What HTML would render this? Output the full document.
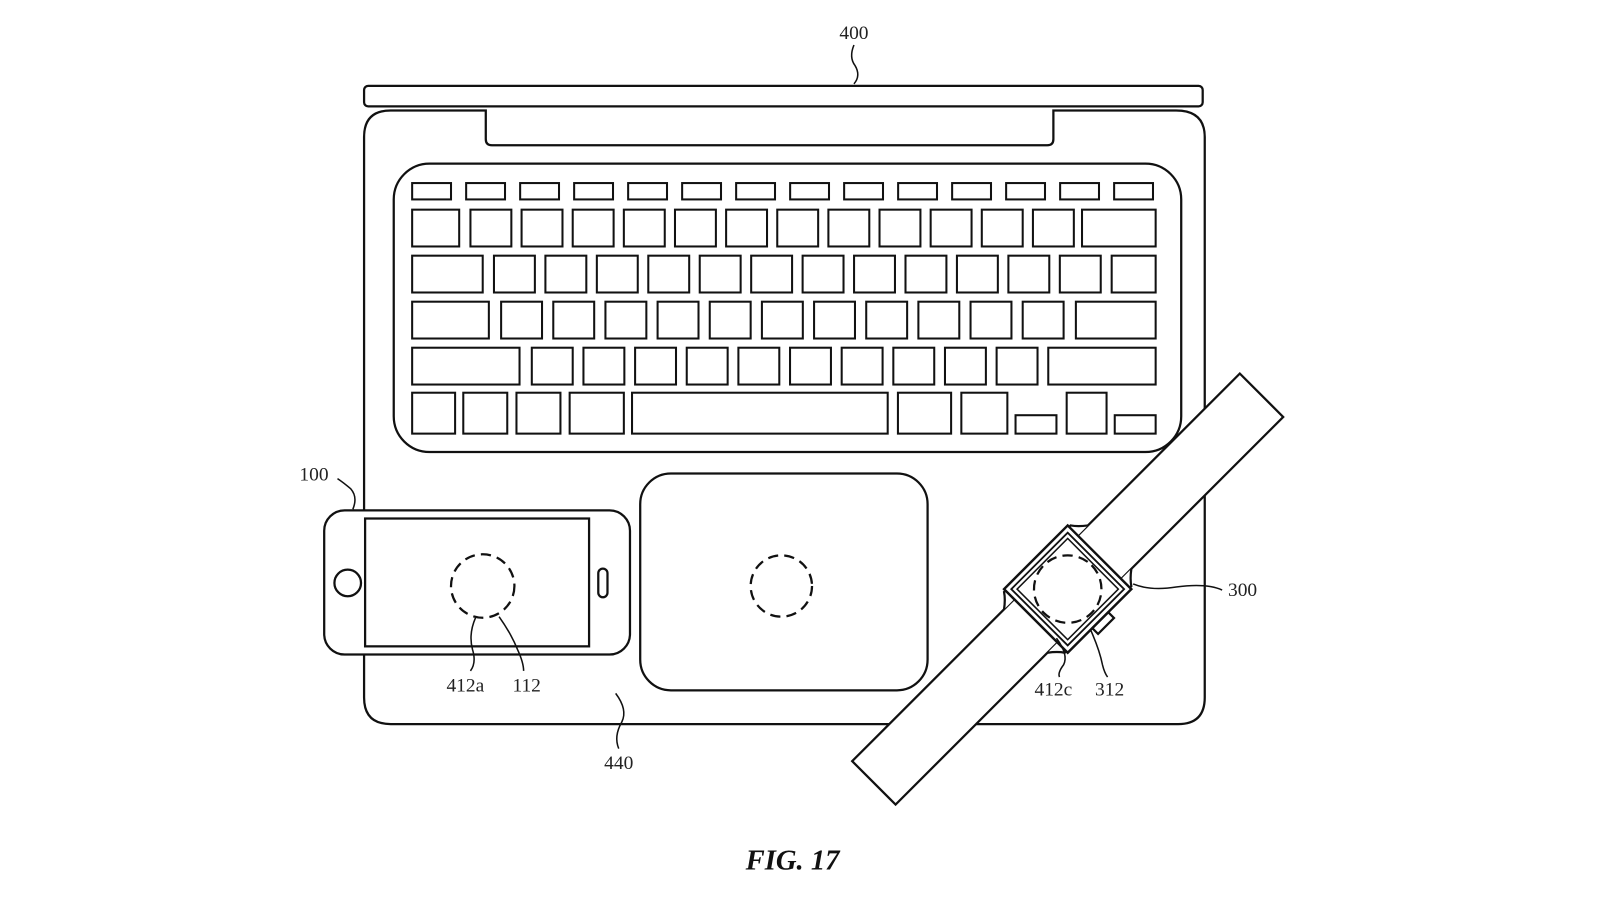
<!DOCTYPE html>
<html><head><meta charset="utf-8"><style>
html,body{margin:0;padding:0;background:#fff;width:1600px;height:900px;overflow:hidden}
svg{display:block}
text{font-family:"Liberation Serif",serif;font-size:19px;fill:#222}
</style></head><body>
<svg id="s" width="1600" height="900" viewBox="0 0 1600 900" fill="none" stroke="#111" stroke-width="2.2">
<g transform="scale(1.0227)">
<!-- lid -->
<rect x="356" y="84" width="820" height="20" rx="4"/>
<path d="M356 134 Q356 108 382 108 L475 108 L475 136 Q475 142 481 142 L1024 142 Q1030 142 1030 136 L1030 108 L1150 108 Q1178 108 1178 134 L1178 682 Q1178 708 1152 708 L382 708 Q356 708 356 682 Z"/>
<rect x="385" y="160" width="770" height="282" rx="35"/>
<g id="keys" stroke-width="2"></g>
<!-- trackpad -->
<rect x="626" y="463" width="281" height="212" rx="30"/>
<circle cx="764" cy="573" r="30" stroke-dasharray="10 6"/>
<!-- phone -->
<rect x="317" y="499" width="299" height="141" rx="20" fill="#fff"/>
<rect x="357" y="507" width="219" height="125"/>
<circle cx="340" cy="570" r="13"/>
<rect x="585" y="556" width="9" height="28" rx="4.5"/>
<circle cx="472" cy="573" r="31" stroke-dasharray="10 6"/>
<path d="M465 604 Q458 620 462 635 Q466 648 460 656" stroke-width="1.5"/>
<path d="M488 603 Q500 620 506 635 Q512 648 512 656" stroke-width="1.5"/>
<path d="M345 498 Q350 486 343 478 Q336 472 330 468" stroke-width="1.5"/>
<!-- 400 leader -->
<path d="M835 44 Q830 56 836 64 Q842 74 835 82" stroke-width="1.5"/>
<!-- 440 leader -->
<path d="M605 732 Q600 720 608 706 Q614 694 602 678" stroke-width="1.5"/>
<!-- watch -->
<g transform="translate(1044,576) rotate(-45)">
<rect x="-268" y="-30" width="536" height="60" fill="#fff"/>
<path d="M-58 -30 Q-50 -36 -46 -42 L46 -42 Q50 -36 58 -30" fill="#fff"/>
<path d="M-58 30 Q-50 36 -46 42 L46 42 Q50 36 58 30" fill="#fff"/>
<rect x="-44" y="-44" width="88" height="88" fill="#fff" stroke-width="2.4"/>
<rect x="-39" y="-39" width="78" height="78" stroke-width="1.8"/>
<rect x="-35" y="-35" width="70" height="70" stroke-width="1.5"/>
<rect x="-10" y="44" width="22" height="8"/>
<circle cx="0" cy="0" r="33" stroke-dasharray="10 6"/>
</g>
<path d="M1108 571 Q1125 578 1150 574 Q1180 570 1195 577" stroke-width="1.5"/>
<path d="M1033 624 Q1045 640 1040 650 Q1034 658 1036 662" stroke-width="1.5"/>
<path d="M1066 615 Q1075 635 1078 650 Q1080 658 1083 662" stroke-width="1.5"/>
<g stroke="none">
<text x="835" y="38" text-anchor="middle">400</text>
<text x="307" y="470" text-anchor="middle">100</text>
<text x="455" y="676" text-anchor="middle">412a</text>
<text x="515" y="676" text-anchor="middle">112</text>
<text x="605" y="752" text-anchor="middle">440</text>
<text x="1215" y="583" text-anchor="middle">300</text>
<text x="1030" y="680" text-anchor="middle">412c</text>
<text x="1085" y="680" text-anchor="middle">312</text>
<text x="775" y="850" text-anchor="middle" style="font-size:28px;font-weight:bold;font-style:italic;fill:#111">FIG. 17</text>
</g>
</g>
</svg>
<script>
var g=document.getElementById('keys'),h='';
function r(x,y,w,hh){h+='<rect x="'+x+'" y="'+y+'" width="'+w+'" height="'+hh+'"/>';}
for(var i=0;i<14;i++)r(403+i*52.8,179,38,16);
r(403,205,46,36);for(i=0;i<12;i++)r(460+i*50,205,40,36);r(1058,205,72,36);
r(403,250,69,36);for(i=0;i<12;i++)r(483+i*50.3,250,40,36);r(1087,250,43,36);
r(403,295,75,36);for(i=0;i<11;i++)r(490+i*51,295,40,36);r(1052,295,78,36);
r(403,340,105,36);for(i=0;i<10;i++)r(520+i*50.5,340,40,36);r(1025,340,105,36);
r(403,384,42,40);r(453,384,43,40);r(505,384,43,40);r(557,384,53,40);r(618,384,250,40);
r(878,384,52,40);r(940,384,45,40);r(993,406,40,18);r(1043,384,39,40);r(1090,406,40,18);
g.innerHTML=h;
</script>
</body></html>
